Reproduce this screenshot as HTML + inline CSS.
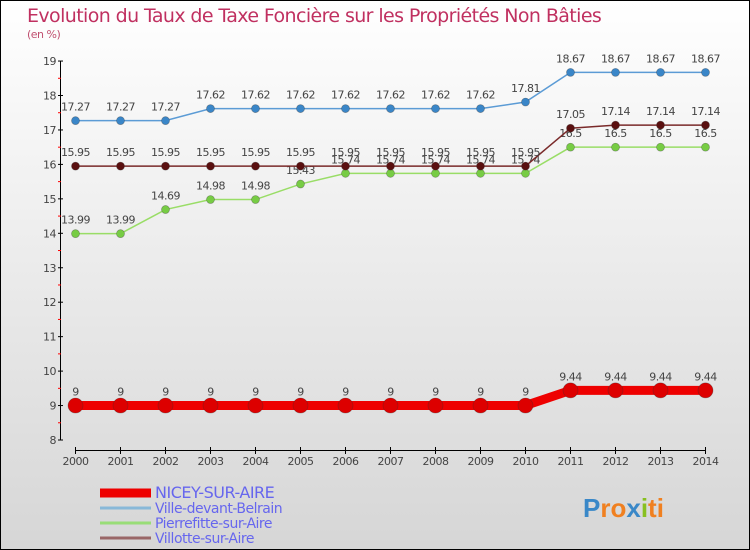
<!DOCTYPE html>
<html><head><meta charset="utf-8"><style>
body{margin:0}
#c{width:750px;height:550px;position:relative;box-sizing:border-box;border:1px solid #000;background:linear-gradient(#ffffff,#d6d6d6);font-family:"DejaVu Sans","Liberation Sans",sans-serif;overflow:hidden}
</style></head><body>
<div id="c">
<svg id="s" width="750" height="550" style="position:absolute;left:-1px;top:-1px"></svg>
</div>
<script>
const years=[2000,2001,2002,2003,2004,2005,2006,2007,2008,2009,2010,2011,2012,2013,2014];
const yTicks=[8,9,10,11,12,13,14,15,16,17,18,19];
const nicey=[9,9,9,9,9,9,9,9,9,9,9,9.44,9.44,9.44,9.44];
const ville=[17.27,17.27,17.27,17.62,17.62,17.62,17.62,17.62,17.62,17.62,17.81,18.67,18.67,18.67,18.67];
const pierre=[13.99,13.99,14.69,14.98,14.98,15.43,15.74,15.74,15.74,15.74,15.74,16.5,16.5,16.5,16.5];
const villotte=[15.95,15.95,15.95,15.95,15.95,15.95,15.95,15.95,15.95,15.95,15.95,17.05,17.14,17.14,17.14];
const names=["NICEY-SUR-AIRE","Ville-devant-Belrain","Pierrefitte-sur-Aire","Villotte-sur-Aire"];
const NS="http://www.w3.org/2000/svg",svg=document.getElementById('s');
const X=i=>75.5+i*45, Y=v=>440-(v-8)*34.45;
function el(t,a,p){const e=document.createElementNS(NS,t);for(const k in a)e.setAttribute(k,a[k]);(p||svg).appendChild(e);return e;}
function tx(x,y,s,o){const e=el('text',Object.assign({x:x,y:y,'font-size':11,fill:'#444','text-anchor':'middle','letter-spacing':'-0.5'},o||{}));e.textContent=s;return e;}
let t=tx(27,22,"Evolution du Taux de Taxe Foncière sur les Propriétés Non Bâties",{'text-anchor':'start','font-size':19,fill:'#c03060','letter-spacing':'-0.6'});

t=tx(27,38,"(en %)",{'text-anchor':'start','font-size':11,fill:'#c05070'});

// axes
let a=el('line',{x1:60.5,y1:Y(19),x2:60.5,y2:Y(8),stroke:'#000'});
a=el('line',{x1:X(0),y1:450.5,x2:X(14),y2:450.5,stroke:'#000'});
yTicks.forEach(v=>{el('line',{x1:58,x2:63,y1:Y(v),y2:Y(v),stroke:'#000'});
 if(v<19)el('line',{x1:58,x2:61,y1:Y(v+0.5),y2:Y(v+0.5),stroke:'#f00'});
 const l=tx(56,Y(v)+4,String(v),{'text-anchor':'end'});});
years.forEach((y,i)=>{el('line',{x1:X(i),x2:X(i),y1:447,y2:454,stroke:'#000'});
 const l=tx(X(i),465,String(y));});
const series=[[ville,'#5b9bd5','#3a86c8',1.5,4,'ville-devant-belrain'],[pierre,'#99dd66','#77cc44',1.5,4,'pierrefitte-sur-aire'],[villotte,'#7a2a2a','#5a1010',1.5,4,'villotte-sur-aire'],[nicey,'#ee0000','#dd0000',9,7.5,'nicey-sur-aire']];
series.forEach(s=>{const g=el('g',{});
 el('polyline',{points:s[0].map((v,i)=>X(i)+','+Y(v)).join(' '),fill:'none',stroke:s[1],'stroke-width':s[3]},g);
 s[0].forEach((v,i)=>{const c=el('circle',{cx:X(i),cy:Y(v),r:s[4],fill:s[2],stroke:'#333','stroke-opacity':0.4,'stroke-width':0.7},g);
  
  const l=tx(X(i),Y(v)-10,String(v),{},g);});});
// legend
const lc=['#ee0000','#88b8d8','#99dd77','#996666'],lw=[9,3,3,3];
names.forEach((n,i)=>{const y=493+i*15;const g=el('g',{});
 el('line',{x1:100,x2:151,y1:y,y2:y,stroke:lc[i],'stroke-width':lw[i]},g);
 tx(155,y+5,n,{'text-anchor':'start','font-size':i==0?16:14,fill:'#6666ee'},g);});
const lg=el('text',{x:583,y:517,'font-size':26,'font-weight':'bold','font-family':'Liberation Sans,sans-serif'});

[['P','#3a88c8'],['ro','#f08020'],['x','#3a88c8'],['i','#88c020'],['ti','#f08020']].forEach(p=>{const ts=el('tspan',{fill:p[1]},lg);ts.textContent=p[0];});
</script>
</body></html>
